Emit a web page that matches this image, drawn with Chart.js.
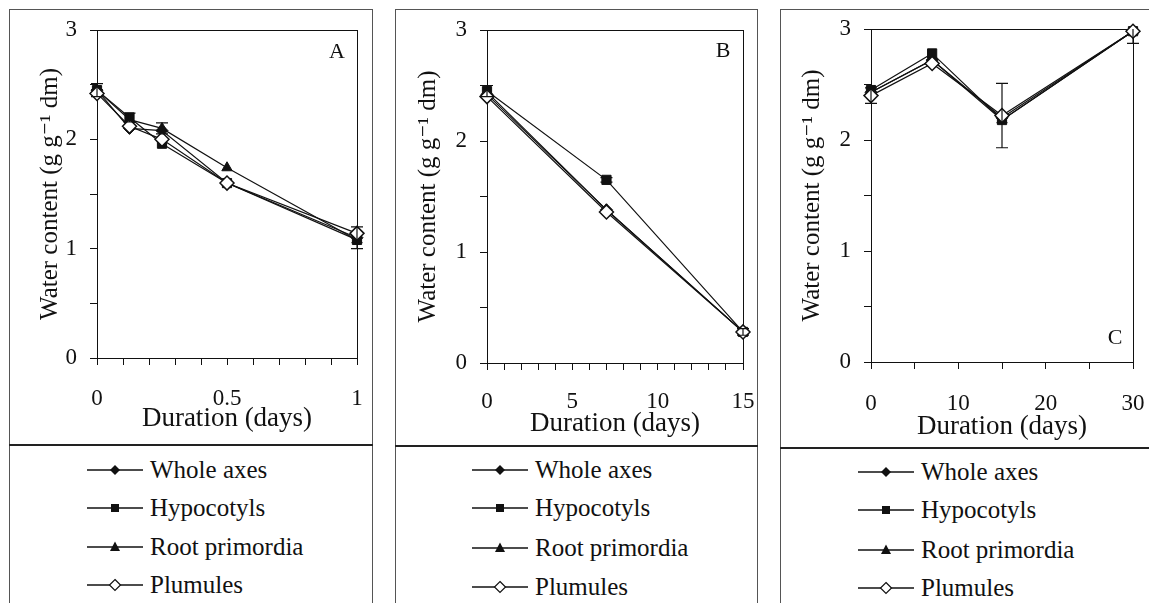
<!DOCTYPE html>
<html>
<head>
<meta charset="utf-8">
<script src="https://cdn.jsdelivr.net/npm/chart.js@4.4.1/dist/chart.umd.min.js"></script>
<style>
    body { margin: 0; width: 1149px; height: 603px; overflow: hidden; position: relative; background: #fff; font-family: 'Liberation Serif', 'DejaVu Serif', 'Times New Roman', serif; color: #111; }
    .panel { position: absolute; top: 9px; height: 640px; border: 1px solid #555; box-sizing: border-box; }
    .sep { position: absolute; height: 0; border-top: 2px solid #222; }
    .leg-row { position: absolute; display: flex; align-items: center; white-space: nowrap; font-size: 25px; line-height: 30px; height: 30px; }
    .leg-row svg { margin-right: 7px; }
    canvas { position: absolute; }
</style>
</head>
<body>
<script>
    const seriesNames = ['Whole axes', 'Hypocotyls', 'Root primordia', 'Plumules'];
    const yTickLabels = [0, 1, 2, 3];

    // A : first day
    const daysA = [0, 0.125, 0.25, 0.5, 1];
    const wholeA = [2.45, 2.10, 2.08, 1.60, 1.10];
    const hypoA = [2.45, 2.20, 1.96, 1.60, 1.08];
    const rootA = [2.45, 2.18, 2.10, 1.74, 1.08];
    const plumA = [2.42, 2.12, 2.00, 1.60, 1.14];
    const errWholeA = [0, 0, 0, 0, 0.10];
    const errHypoA = [0.06, 0.04, 0, 0, 0];
    const errRootA = [0, 0, 0.05, 0, 0];
    const xLabelsA = [0, 0.5, 1];

    // B : 15 days
    const daysB = [0, 7, 15];
    const wholeB = [2.42, 1.38, 0.28];
    const hypoB = [2.45, 1.65, 0.28];
    const rootB = [2.44, 1.38, 0.28];
    const plumB = [2.40, 1.36, 0.28];
    const errHypoB = [0.05, 0.02, 0.03];
    const xLabelsB = [0, 5, 10, 15];

    // C : 30 days
    const daysC = [0, 7, 15, 30];
    const wholeC = [2.43, 2.72, 2.20, 2.98];
    const hypoC = [2.45, 2.78, 2.18, 2.98];
    const rootC = [2.43, 2.72, 2.18, 2.98];
    const plumC = [2.40, 2.69, 2.22, 2.98];
    const errHypoC = [0, 0, 0, 0.11];
    const errPlumC = [0.07, 0, 0.29, 0];
    const xLabelsC = [0, 10, 20, 30];

    const FONT = "'Liberation Serif', 'DejaVu Serif', serif";
    const INK = '#111';

    // marker look per series
    const seriesStyle = [
        { pointStyle: 'rectRot', radius: 6, fill: INK, order: 3 },
        { pointStyle: 'rect', radius: 6.5, fill: INK, order: 2 },
        { pointStyle: 'triangle', radius: 6, fill: INK, order: 1 },
        { pointStyle: 'rectRot', radius: 7, fill: '#fff', order: 0 }
    ];

    const panels = [
        {
            letter: 'A', days: daysA, series: [wholeA, hypoA, rootA, plumA], errors: [errWholeA, errHypoA, errRootA, null],
            xMax: 1, xStep: 0.1, xLabels: xLabelsA,
            frame: { left: 9, right: 373, sep: 445 },
            box: { left: 10, top: 10, width: 362, height: 435 },
            area: { l: 97, r: 357, t: 30, b: 358 },
            yTitleX: 50, xTickY: 399, xTitleY: 419, letterPos: { x: 337, y: 52 },
            legend: { symbol: 87, rows: [470, 508, 547, 585] }
        },
        {
            letter: 'B', days: daysB, series: [wholeB, hypoB, rootB, plumB], errors: [null, errHypoB, null, null],
            xMax: 15, xStep: 1, xLabels: xLabelsB,
            frame: { left: 395, right: 758, sep: 446 },
            box: { left: 396, top: 10, width: 361, height: 436 },
            area: { l: 487, r: 743, t: 30, b: 363 },
            yTitleX: 428, xTickY: 402, xTitleY: 424, letterPos: { x: 723, y: 51 },
            legend: { symbol: 472, rows: [470, 508, 548, 587] }
        },
        {
            letter: 'C', days: daysC, series: [wholeC, hypoC, rootC, plumC], errors: [null, errHypoC, null, errPlumC],
            xMax: 30, xStep: 5, xLabels: xLabelsC,
            frame: { left: 780, right: 1152, sep: 448 },
            box: { left: 781, top: 10, width: 367, height: 438 },
            area: { l: 871, r: 1133, t: 29, b: 362 },
            yTitleX: 812, xTickY: 404, xTitleY: 427, letterPos: { x: 1115, y: 338 },
            legend: { symbol: 858, rows: [472, 510, 550, 588] }
        }
    ];

    function labelFrom(list) {
        return v => list.some(t => Math.abs(t - v) < 1e-6) ? String(Math.round(v * 100) / 100) : '';
    }

    // box round the plot area
    const framePlugin = {
        id: 'frame',
        beforeDatasetsDraw(chart) {
            const { ctx, chartArea: a } = chart;
            ctx.save();
            ctx.strokeStyle = INK;
            ctx.lineWidth = 1;
            ctx.strokeRect(a.left + 0.5, a.top + 0.5, a.right - a.left, a.bottom - a.top);
            ctx.restore();
        }
    };

    // vertical error bars from dataset.errors
    const errorBarPlugin = {
        id: 'errorBars',
        afterDatasetsDraw(chart) {
            const { ctx, chartArea: a, scales } = chart;
            ctx.save();
            ctx.beginPath();
            ctx.rect(a.left - 10, a.top, a.right - a.left + 20, a.bottom - a.top);
            ctx.clip();
            ctx.strokeStyle = INK;
            ctx.lineWidth = 1.2;
            chart.data.datasets.forEach((ds, i) => {
                if (!ds.errors) return;
                const meta = chart.getDatasetMeta(i);
                ds.errors.forEach((e, j) => {
                    if (!e) return;
                    const x = meta.data[j].x;
                    const v = ds.data[j].y;
                    const y1 = scales.y.getPixelForValue(v + e);
                    const y2 = scales.y.getPixelForValue(v - e);
                    ctx.beginPath();
                    ctx.moveTo(x, y1); ctx.lineTo(x, y2);
                    ctx.moveTo(x - 6, y1); ctx.lineTo(x + 6, y1);
                    ctx.moveTo(x - 6, y2); ctx.lineTo(x + 6, y2);
                    ctx.stroke();
                });
            });
            ctx.restore();
        }
    };

    const letterPlugin = {
        id: 'panelLetter',
        afterDraw(chart, args, opts) {
            const ctx = chart.ctx;
            ctx.save();
            ctx.fillStyle = INK;
            ctx.font = '22px ' + FONT;
            ctx.textAlign = 'center';
            ctx.textBaseline = 'middle';
            ctx.fillText(opts.text, opts.x, opts.y);
            ctx.restore();
        }
    };

    function legendSymbol(i) {
        let mark = '';
        if (i === 0) mark = '<polygon points="28,4 33,9 28,14 23,9" fill="' + INK + '"/>';
        if (i === 1) mark = '<rect x="24" y="5" width="8" height="8" fill="' + INK + '"/>';
        if (i === 2) mark = '<polygon points="28,3.5 33,13 23,13" fill="' + INK + '"/>';
        if (i === 3) mark = '<polygon points="28,3.5 33.5,9 28,14.5 22.5,9" fill="#fff" stroke="' + INK + '" stroke-width="1.2"/>';
        return '<svg width="56" height="18" viewBox="0 0 56 18"><line x1="0" y1="9" x2="56" y2="9" stroke="' + INK + '" stroke-width="1.4"/>' + mark + '</svg>';
    }

    panels.forEach(p => {
        // outer panel and legend box
        const frame = document.createElement('div');
        frame.className = 'panel';
        frame.style.left = p.frame.left + 'px';
        frame.style.width = (p.frame.right - p.frame.left) + 'px';
        document.body.appendChild(frame);
        const sep = document.createElement('div');
        sep.className = 'sep';
        sep.style.left = p.frame.left + 'px';
        sep.style.width = (p.frame.right - p.frame.left) + 'px';
        sep.style.top = (p.frame.sep - 1) + 'px';
        document.body.appendChild(sep);

        const cv = document.createElement('canvas');
        cv.width = p.box.width;
        cv.height = p.box.height;
        cv.style.left = p.box.left + 'px';
        cv.style.top = p.box.top + 'px';
        document.body.appendChild(cv);

        const yAxisW = p.area.l - p.box.left;
        const xAxisH = p.box.top + p.box.height - p.area.b;

        new Chart(cv, {
            type: 'line',
            data: {
                datasets: p.series.map((vals, i) => ({
                    label: seriesNames[i],
                    data: p.days.map((d, j) => ({ x: d, y: vals[j] })),
                    errors: p.errors[i],
                    order: seriesStyle[i].order,
                    borderColor: INK,
                    borderWidth: 1.2,
                    tension: 0,
                    clip: false,
                    pointStyle: seriesStyle[i].pointStyle,
                    pointRadius: seriesStyle[i].radius,
                    pointBackgroundColor: seriesStyle[i].fill,
                    pointBorderColor: INK,
                    pointBorderWidth: i === 3 ? 1.5 : 1
                }))
            },
            options: {
                responsive: false,
                animation: false,
                layout: { padding: { left: 0, top: p.area.t - p.box.top, right: p.box.left + p.box.width - p.area.r, bottom: 0 } },
                plugins: {
                    legend: { display: false },
                    tooltip: { enabled: false },
                    panelLetter: { text: p.letter, x: p.letterPos.x - p.box.left, y: p.letterPos.y - p.box.top }
                },
                scales: {
                    x: {
                        type: 'linear', min: 0, max: p.xMax,
                        afterFit: s => { s.height = xAxisH; s.paddingLeft = 0; s.paddingRight = 0; },
                        ticks: {
                            stepSize: p.xStep, maxTicksLimit: 100, autoSkip: false, maxRotation: 0,
                            padding: p.xTickY - p.area.b - 7 - 11.5,
                            color: INK, font: { family: FONT, size: 23, lineHeight: 1 },
                            callback: labelFrom(p.xLabels)
                        },
                        grid: { drawOnChartArea: false, tickLength: 7, color: INK },
                        border: { color: INK },
                        title: {
                            display: true, text: 'Duration (days)', color: INK,
                            font: { family: FONT, size: 27, lineHeight: 1 },
                            padding: { top: 0, bottom: p.box.top + p.box.height - p.xTitleY - 13.5 }
                        }
                    },
                    y: {
                        min: 0, max: 3,
                        afterFit: s => { s.width = yAxisW; s.paddingTop = 0; s.paddingBottom = 0; },
                        ticks: {
                            stepSize: 0.5, autoSkip: false, padding: 13,
                            color: INK, font: { family: FONT, size: 23 },
                            callback: labelFrom(yTickLabels)
                        },
                        grid: { drawOnChartArea: false, tickLength: 7, color: INK },
                        border: { color: INK },
                        title: {
                            display: true, text: 'Water content (g g⁻¹ dm)', color: INK,
                            font: { family: FONT, size: 25, lineHeight: 1 },
                            padding: { top: p.yTitleX - p.box.left - 12.5, bottom: 0 }
                        }
                    }
                }
            },
            plugins: [framePlugin, errorBarPlugin, letterPlugin]
        });

        // legend below the plot
        p.legend.rows.forEach((y, i) => {
            const row = document.createElement('div');
            row.className = 'leg-row';
            row.style.left = p.legend.symbol + 'px';
            row.style.top = (y - 15) + 'px';
            row.innerHTML = legendSymbol(i) + '<span>' + seriesNames[i] + '</span>';
            document.body.appendChild(row);
        });
    });
</script>
</body>
</html>
